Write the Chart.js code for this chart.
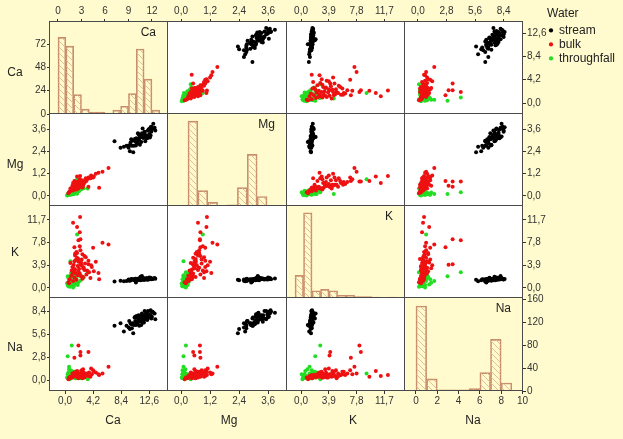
<!DOCTYPE html>
<html>
<head>
<meta charset="utf-8">
<script src="https://cdn.jsdelivr.net/npm/chart.js@4.4.1/dist/chart.umd.min.js"></script>
<style>
  body { margin: 0; background: #FFFBCE; font-family: Arial, "Liberation Sans", sans-serif; }
  #wrap { position: relative; width: 623px; height: 439px; overflow: hidden; }
  .txt { position: absolute; font-size: 12px; color: #222; white-space: nowrap; }
</style>
</head>
<body>
<div id="wrap"></div>
<script>
// variables of the matrix and water groups
const vars = ['Ca', 'Mg', 'K', 'Na'];
const groups = ['stream', 'bulk', 'throughfall'];

// stream water samples
const streamCa = [11.2, 10.8, 11.6, 12.1, 10.5, 11.0, 11.9, 12.6, 13.1, 13.4, 9.8, 9.5, 10.2, 7.4, 8.3, 10.9, 11.4, 12.3, 11.7, 10.4,
  11.1, 12.8, 13.0, 10.7, 11.5, 12.0, 9.9, 11.3, 12.4, 10.6, 11.8, 12.2, 12.9, 10.3, 11.6, 12.7, 9.2, 10.1, 11.0, 12.5,
  11.4, 10.8, 12.6, 11.2, 13.2, 9.7, 8.8, 12.0, 11.7, 10.5, 12.9, 11.9, 10.0, 12.3, 11.3, 10.6, 12.8, 9.6, 13.5, 11.5];
const streamMg = [3.17, 2.85, 3.20, 3.10, 3.08, 3.05, 3.40, 3.33, 3.62, 3.67, 2.87, 2.60, 2.35, 2.95, 2.60, 3.38, 2.90, 3.22, 3.28, 2.97,
  2.97, 3.25, 3.60, 3.10, 3.38, 2.95, 3.05, 3.23, 3.52, 2.72, 3.17, 3.20, 3.45, 2.70, 3.63, 3.15, 2.70, 2.98, 3.32, 3.57,
  3.27, 2.90, 3.60, 2.75, 3.88, 2.40, 2.65, 3.28, 3.12, 3.07, 3.72, 3.45, 2.70, 3.10, 3.18, 2.90, 3.70, 2.73, 3.52, 3.17];
const streamK = [1.45, 1.50, 1.40, 1.55, 1.35, 1.60, 1.50, 1.65, 1.55, 1.70, 1.30, 1.45, 1.40, 1.10, 1.25, 1.55, 1.45, 1.60, 1.50, 1.35,
  1.50, 1.75, 1.60, 1.40, 1.65, 1.45, 1.55, 1.35, 1.50, 1.60, 1.40, 1.70, 1.55, 1.45, 1.50, 1.60, 1.20, 1.50, 1.65, 1.45,
  1.55, 1.30, 1.80, 1.40, 1.65, 1.35, 1.15, 1.55, 1.75, 1.60, 1.50, 1.45, 1.50, 1.40, 1.95, 0.95, 1.55, 1.25, 1.60, 2.05];
const streamNa = [7.6, 6.9, 7.3, 8.0, 7.2, 7.1, 7.9, 7.6, 8.3, 8.1, 6.9, 6.4, 5.7, 6.6, 6.9, 7.5, 6.7, 7.7, 7.5, 7.6,
  6.6, 7.9, 7.7, 7.8, 7.1, 7.5, 6.8, 7.4, 8.4, 7.1, 7.0, 8.2, 7.5, 6.7, 7.7, 7.8, 6.6, 6.9, 7.9, 8.0,
  7.8, 6.8, 7.7, 7.2, 8.2, 6.2, 5.9, 7.4, 7.0, 7.7, 8.3, 8.4, 6.3, 7.3, 7.5, 6.7, 8.5, 7.2, 7.4, 8.1];

// bulk deposition samples
const bulkCa = [5.1, 6.5, 5.6, 4.2, 2.25, 1.2, 1.8, 2.2, 2.0, 2.3, 3.5, 2.3, 1.4,
  1.5, 2.0, 1.2, 2.5, 1.8, 0.9, 2.8, 1.6, 2.2, 3.0, 1.4, 2.6, 1.1, 1.9, 3.3, 2.4, 1.7, 0.7, 2.1, 3.6,
  1.3, 2.7, 1.0, 2.9, 4.0, 1.6, 2.3, 0.8, 3.2, 1.9, 2.5, 4.6, 1.2, 3.8, 2.0, 1.5, 0.6, 2.7, 3.5, 1.1,
  2.2, 1.7, 4.3, 2.9, 1.4, 0.5, 2.4, 3.1, 1.8, 2.6, 1.3, 5.0, 2.0, 3.9, 1.5];
const bulkMg = [0.44, 1.50, 1.30, 1.00, 1.07, 0.70, 1.05, 0.80, 0.78, 0.78, 0.50, 0.55, 0.80,
  0.45, 0.55, 0.40, 0.65, 0.50, 0.30, 0.75, 0.60, 0.50, 0.85, 0.35, 0.70, 0.55, 0.45, 0.90, 0.60, 0.65, 0.25, 0.70, 0.95,
  0.50, 0.60, 0.35, 0.80, 1.00, 0.40, 0.75, 0.40, 0.80, 0.55, 0.85, 1.20, 0.30, 0.95, 0.60, 0.70, 0.20, 0.55, 1.00, 0.45,
  0.90, 0.35, 1.05, 0.70, 0.60, 0.15, 0.50, 0.95, 0.75, 0.45, 0.55, 1.25, 0.40, 1.10, 0.60];
const bulkK = [1.5, 7.5, 7.8, 6.9, 12.2, 11.2, 10.5, 9.6, 8.2, 8.4, 4.1, 4.0, 7.0,
  3.2, 4.5, 2.8, 3.9, 5.2, 2.1, 3.5, 4.8, 2.5, 4.2, 1.8, 5.8, 3.6, 2.2, 3.0, 4.4, 6.2, 1.5, 3.3, 2.7,
  4.0, 1.9, 3.0, 5.5, 3.6, 2.6, 6.5, 4.3, 2.3, 3.8, 4.9, 4.5, 1.2, 1.7, 5.0, 5.6, 0.8, 3.4, 4.7, 2.4,
  7.2, 1.4, 2.9, 3.1, 4.6, 1.0, 2.0, 5.3, 6.0, 1.6, 3.4, 2.6, 2.9, 3.9, 5.9];
const bulkNa = [0.6, 1.6, 0.8, 1.2, 0.6, 0.5, 1.1, 0.4, 4.2, 3.4, 3.4, 3.0, 2.7,
  0.5, 0.7, 0.4, 0.6, 0.8, 0.3, 0.9, 0.5, 0.4, 0.7, 0.6, 1.0, 0.3, 0.5, 0.8, 1.1, 0.6, 0.2, 0.4, 0.9,
  0.7, 0.5, 0.3, 0.6, 0.7, 0.9, 0.8, 0.4, 0.6, 0.3, 1.2, 0.9, 0.5, 0.4, 0.2, 0.6, 0.3, 1.3, 0.5, 0.8,
  0.7, 0.4, 1.0, 0.3, 0.9, 0.1, 0.6, 0.5, 1.0, 0.2, 0.6, 0.7, 0.4, 1.4, 0.7];

// throughfall samples
const tfCa = [3.4, 1.8, 1.0, 0.4, 0.6, 0.8,
  0.5, 0.8, 1.0, 1.2, 0.6, 1.5, 0.9, 1.3, 0.4, 1.7, 1.1, 0.7, 2.0, 1.4, 0.3, 1.9, 1.6, 0.8, 2.3, 1.2,
  0.5, 2.5, 1.0, 1.6, 2.8, 0.9, 1.3, 2.1, 0.6, 1.8];
const tfMg = [0.40, 0.90, 0.20, 0.10, 0.10, 0.10,
  0.05, 0.10, 0.15, 0.12, 0.08, 0.20, 0.18, 0.25, 0.05, 0.22, 0.10, 0.15, 0.30, 0.14, 0.03, 0.28, 0.32, 0.06, 0.35, 0.20,
  0.12, 0.38, 0.08, 0.16, 0.42, 0.22, 0.09, 0.26, 0.18, 0.12];
const tfK = [2.7, 9.2, 2.7, 2.0, 1.2, 4.6,
  0.3, 0.6, 0.9, 0.4, 1.4, 0.7, 1.8, 1.1, 0.5, 1.6, 2.2, 0.2, 1.0, 1.9, 0.8, 0.5, 2.4, 1.5, 1.3, 0.1,
  1.7, 2.0, 0.6, 1.2, 1.8, 2.6, 0.3, 2.1, 0.9, 0.8];
const tfNa = [0.1, 0.8, 4.2, 2.9, 1.6, 0.5,
  0.2, 0.4, 0.3, 0.6, 0.5, 0.2, 0.8, 0.4, 0.7, 0.3, 0.9, 0.1, 0.5, 1.0, 0.3, 0.6, 0.4, 1.2, 0.2, 0.7,
  0.9, 0.5, 1.1, 0.8, 0.3, 0.6, 0.4, 0.7, 1.3, 0.2];

// histograms on the diagonal (bin centres, counts)
const caBins = [0.5, 1.5, 2.5, 3.5, 4.5, 5.5, 6.5, 7.5, 8.5, 9.5, 10.5, 11.5, 12.5];
const caCounts = [79, 70, 20, 5, 2, 2, 1, 4, 8, 21, 67, 36, 4];
const mgBins = [0.25, 0.75, 1.25, 1.75, 2.25, 2.75, 3.25, 3.75];
const mgCounts = [143, 26, 6, 1, 2, 31, 87, 16];
const kBins = [0.6, 1.8, 3.0, 4.2, 5.4, 6.6, 7.8, 9.0, 10.2, 11.4, 12.6, 13.8];
const kCounts = [50, 189, 16, 19, 16, 6, 6, 3, 3, 2, 1, 2];
const naBins = [0.5, 1.5, 2.5, 3.5, 4.5, 5.5, 6.5, 7.5, 8.5];
const naCounts = [148, 21, 2, 2, 2, 4, 32, 90, 14];

// tick labels
const caTicks = [0, 4.2, 8.4, 12.6];
const mgTicks = [0, 1.2, 2.4, 3.6];
const kTicks = [0, 3.9, 7.8, 11.7];
const naTicks = [0, 2.8, 5.6, 8.4];
const caHistTicks = [0, 3, 6, 9, 12];
const caCountTicks = [0, 24, 48, 72];
const naHistTicks = [0, 2, 4, 6, 8, 10];
const naCountTicks = [0, 40, 80, 120, 160];

// ---- tables built from the arrays above ----
const series = {
  stream: { Ca: streamCa, Mg: streamMg, K: streamK, Na: streamNa },
  bulk: { Ca: bulkCa, Mg: bulkMg, K: bulkK, Na: bulkNa },
  throughfall: { Ca: tfCa, Mg: tfMg, K: tfK, Na: tfNa }
};
const colors = { stream: '#000000', bulk: '#EE1111', throughfall: '#22DD22' };
const ticksOf = { Ca: caTicks, Mg: mgTicks, K: kTicks, Na: naTicks };
const hist = {
  Ca: { bins: caBins, counts: caCounts },
  Mg: { bins: mgBins, counts: mgCounts },
  K: { bins: kBins, counts: kCounts },
  Na: { bins: naBins, counts: naCounts }
};

// axis ranges of each panel
const rangeX = { Ca: [-2.25, 15.4], Mg: [-0.54, 4.38], K: [-1.97, 14.6], Na: [-1.27, 10.3] };
const rangeY = { Ca: [-1.98, 14.6], Mg: [-0.54, 4.41], K: [-1.72, 14.1], Na: [-1.34, 9.99] };
const histX = { Ca: [-1.02, 14.05], Mg: [-1.01, 5.01], K: [-1.13, 15.5], Na: [-1.03, 10.05] };
const histY = { Ca: [0, 94.8], Mg: [0, 155], K: [0, 204], Na: [0, 162] };

// cell layout
const W = 623, H = 439;
const edgesX = [50, 168, 287, 405, 523];
const edgesY = [22, 114, 206, 298, 391];
const AXW = 40;   // room kept for a vertical axis
const AXH = 20;   // room kept for a horizontal axis

Chart.defaults.font.family = 'Arial, "Liberation Sans", sans-serif';

const wrap = document.getElementById('wrap');

function addCanvas(left, top, w, h) {
  const c = document.createElement('canvas');
  c.width = w;
  c.height = h;
  c.style.cssText = `position:absolute;left:${left}px;top:${top}px;width:${w}px;height:${h}px`;
  wrap.appendChild(c);
  return c;
}

function addText(text, x, y, align) {
  const d = document.createElement('div');
  d.className = 'txt';
  d.textContent = text;
  d.style.left = x + 'px';
  d.style.top = y + 'px';
  if (align === 'center') d.style.transform = 'translate(-50%, -50%)';
  if (align === 'right') d.style.transform = 'translateX(-100%)';
  wrap.appendChild(d);
}

const fmt1 = v => v.toFixed(1).replace('.', ',');
const fmt0 = v => String(v);

// diagonal hatch used for histogram bars
function makeHatch() {
  const c = document.createElement('canvas');
  c.width = 6; c.height = 6;
  const g = c.getContext('2d');
  g.strokeStyle = '#E6BE96';
  g.lineWidth = 1;
  g.beginPath();
  g.moveTo(0, 0); g.lineTo(6, 6);
  g.moveTo(-3, 3); g.lineTo(3, 9);
  g.moveTo(3, -3); g.lineTo(9, 3);
  g.stroke();
  return g.createPattern(c, 'repeat');
}
const hatch = makeHatch();

// background + frame of every cell
const cellPlugin = {
  id: 'cell',
  beforeDraw(chart, args, opts) {
    const a = chart.chartArea, ctx = chart.ctx;
    if (opts.bg) {
      ctx.save();
      ctx.fillStyle = opts.bg;
      ctx.fillRect(a.left, a.top, a.right - a.left, a.bottom - a.top);
      ctx.restore();
    }
  },
  afterDraw(chart) {
    const a = chart.chartArea, ctx = chart.ctx;
    ctx.save();
    ctx.strokeStyle = '#4a4a4a';
    ctx.lineWidth = 1;
    ctx.strokeRect(a.left - 0.5, a.top - 0.5, a.right - a.left, a.bottom - a.top);
    ctx.restore();
  }
};

function makeAxis(pos, range, ticks, fmt, show) {
  return {
    type: 'linear',
    position: pos,
    min: range[0],
    max: range[1],
    display: show,
    offset: false,
    afterBuildTicks: s => { s.ticks = ticks.map(v => ({ value: v })); },
    afterFit: s => {
      if (!show) return;
      if (s.isHorizontal()) s.height = AXH; else s.width = AXW;
    },
    grid: { drawOnChartArea: false, offset: false, tickLength: 3, color: '#333' },
    border: { display: false },
    ticks: {
      autoSkip: false,
      maxRotation: 0,
      font: { size: 10 },
      color: '#333',
      padding: pos === 'top' ? 2 : 1,
      callback: v => fmt(v)
    }
  };
}

// padding puts the chart area exactly on the cell; shown axes take their fixed room
function cellOptions(r, c, scales) {
  const sx = scales.x, sy = scales.y;
  const top = sx.display && sx.position === 'top' ? AXH : 0;
  const bottom = sx.display && sx.position === 'bottom' ? AXH : 0;
  const left = sy.display && sy.position === 'left' ? AXW : 0;
  const right = sy.display && sy.position === 'right' ? AXW : 0;
  return {
    responsive: false,
    animation: false,
    events: [],
    layout: {
      padding: {
        left: edgesX[c] - left,
        top: edgesY[r] - top,
        right: W - edgesX[c + 1] - right,
        bottom: H - edgesY[r + 1] - bottom
      }
    },
    scales,
    plugins: {
      legend: { display: false },
      tooltip: { enabled: false },
      cell: { bg: r === c ? null : '#FFFFFF' }
    }
  };
}

function scatterCell(r, c) {
  const xv = vars[c], yv = vars[r];
  const datasets = groups.map(g => ({
    label: g,
    data: series[g][xv].map((x, i) => ({ x, y: series[g][yv][i] })),
    backgroundColor: colors[g],
    borderColor: colors[g],
    pointStyle: 'circle',
    pointRadius: 2,
    pointBorderWidth: 0
  }));
  const scales = {
    x: makeAxis(r === 0 ? 'top' : 'bottom', rangeX[xv], ticksOf[xv], fmt1, r === 0 || r === 3),
    y: makeAxis(c === 3 ? 'right' : 'left', rangeY[yv], ticksOf[yv], fmt1, c === 0 || c === 3)
  };
  new Chart(addCanvas(0, 0, W, H), {
    type: 'scatter',
    data: { datasets },
    options: cellOptions(r, c, scales),
    plugins: [cellPlugin]
  });
}

function histCell(i) {
  const v = vars[i];
  const h = hist[v];
  let xAxis, yAxis;
  if (i === 0) {
    xAxis = makeAxis('top', histX[v], caHistTicks, fmt0, true);
    yAxis = makeAxis('left', histY[v], caCountTicks, fmt0, true);
  } else if (i === 3) {
    xAxis = makeAxis('bottom', histX[v], naHistTicks, fmt0, true);
    yAxis = makeAxis('right', histY[v], naCountTicks, fmt0, true);
  } else {
    xAxis = makeAxis('bottom', histX[v], [], fmt0, false);
    yAxis = makeAxis('left', histY[v], [], fmt0, false);
  }
  new Chart(addCanvas(0, 0, W, H), {
    type: 'bar',
    data: {
      datasets: [{
        label: v,
        data: h.bins.map((b, k) => ({ x: b, y: h.counts[k] })),
        backgroundColor: hatch,
        borderColor: '#C98E6C',
        borderWidth: 1,
        barPercentage: 1,
        categoryPercentage: 1
      }]
    },
    options: cellOptions(i, i, { x: xAxis, y: yAxis }),
    plugins: [cellPlugin]
  });
  // variable name in the corner of the diagonal cell
  addText(v, edgesX[i + 1] - 12, edgesY[i] + 3, 'right');
}

for (let r = 0; r < 4; r++) {
  for (let c = 0; c < 4; c++) {
    if (r === c) histCell(r);
    else scatterCell(r, c);
  }
}

// axis titles
const leftTitleY = [72, 164, 252, 347];
const bottomTitleX = [113, 229, 353, 473];
vars.forEach((v, i) => {
  addText(v, 15, leftTitleY[i], 'center');
  addText(v, bottomTitleX[i], 420, 'center');
});

// legend
new Chart(addCanvas(547, 8, 76, 150), {
  type: 'scatter',
  data: {
    datasets: groups.map(g => ({
      label: g,
      data: [],
      backgroundColor: colors[g],
      borderColor: colors[g],
      borderWidth: 0,
      pointStyle: 'circle'
    }))
  },
  options: {
    responsive: false,
    animation: false,
    events: [],
    scales: { x: { display: false }, y: { display: false } },
    plugins: {
      tooltip: { enabled: false },
      legend: {
        position: 'top',
        align: 'start',
        title: { display: true, text: 'Water', position: 'start', color: '#222', font: { size: 12 } },
        labels: { usePointStyle: true, boxWidth: 4, boxHeight: 3, padding: 2, color: '#222', font: { size: 12 } }
      }
    }
  }
});
</script>
</body>
</html>
